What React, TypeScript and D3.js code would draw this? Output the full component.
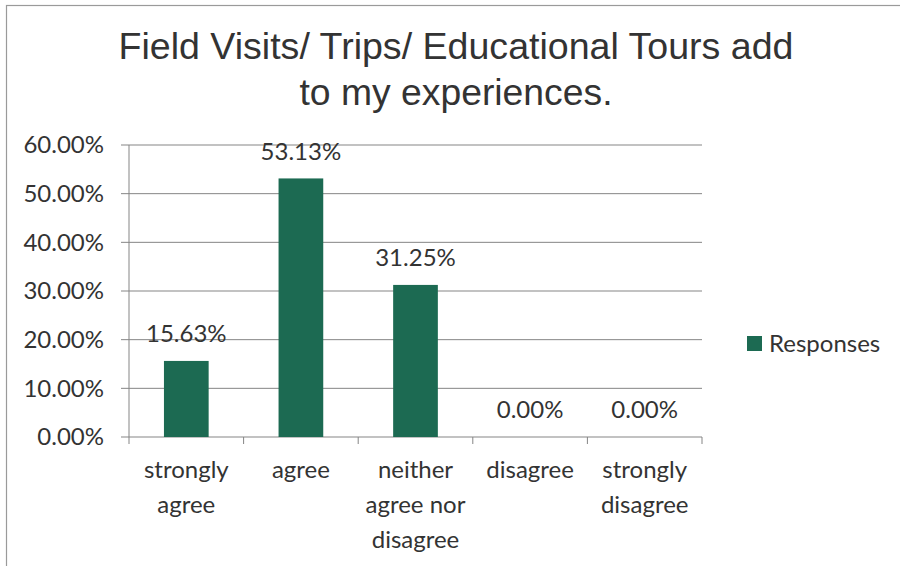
import { useEffect, useRef } from 'react';
import * as d3 from 'd3';

const categories = ['strongly agree', 'agree', 'neither agree nor disagree', 'disagree', 'strongly disagree'];
const categoryLines = [['strongly', 'agree'], ['agree'], ['neither', 'agree nor', 'disagree'], ['disagree'], ['strongly', 'disagree']];
const responses = [0.1563, 0.5313, 0.3125, 0, 0];
const yTicks = [0, 0.1, 0.2, 0.3, 0.4, 0.5, 0.6];
const titleLines = ['Field Visits/ Trips/ Educational Tours add', 'to my experiences.'];
const titleWidths = [675, 313];
const seriesName = 'Responses';

const W = 900;
const H = 566;
const BAR = '#1c6a52';
const LABEL_FONT = 'Lato, "Open Sans", sans-serif';
const LABEL_SIZE = 24;

export default function App() {
  const svgRef = useRef<SVGSVGElement>(null);

  useEffect(() => {
    if (!svgRef.current) return;
    const svg = d3.select(svgRef.current);
    svg.selectAll('*').remove();

    const left = 129;
    const right = 702;
    const top = 145;
    const bottom = 437;

    // gap width ~ 155% like the excel default
    const x = d3.scaleBand<string>().domain(categories).range([left, right]).paddingInner(0.61).paddingOuter(0.305);
    const y = d3.scaleLinear().domain([0, 0.6]).range([bottom, top]);
    const pct = (v: number) => (v * 100).toFixed(2) + '%';

    // frame
    svg.append('rect').attr('width', W).attr('height', H).attr('fill', '#fff');
    svg.append('rect')
      .attr('x', 6.5).attr('y', 5.5).attr('width', W).attr('height', H)
      .attr('fill', 'none').attr('stroke', '#9a9a9a').attr('stroke-width', 1.2);

    // title
    svg.append('g').selectAll('text').data(titleLines).enter().append('text')
      .attr('x', 456).attr('y', (_, i) => 59 + i * 46)
      .attr('text-anchor', 'middle')
      .attr('font-family', '"Liberation Sans", Arial, sans-serif')
      .attr('font-size', 36).attr('fill', '#333')
      .attr('textLength', (_, i) => titleWidths[i])
      .attr('lengthAdjust', 'spacingAndGlyphs')
      .text(d => d);

    // gridlines + y labels
    const g = svg.append('g');
    g.selectAll('line.grid').data(yTicks).enter().append('line')
      .attr('x1', left - 8).attr('x2', right)
      .attr('y1', d => y(d)).attr('y2', d => y(d))
      .attr('stroke', '#858585').attr('stroke-width', 1);
    g.selectAll('text.ytick').data(yTicks).enter().append('text')
      .attr('x', 104).attr('y', d => y(d))
      .attr('dy', '0.35em').attr('text-anchor', 'end')
      .attr('font-family', LABEL_FONT).attr('font-size', LABEL_SIZE).attr('fill', '#333')
      .text(d => pct(d));

    // y axis line
    g.append('line').attr('x1', left).attr('x2', left).attr('y1', top).attr('y2', bottom)
      .attr('stroke', '#858585');

    // x axis ticks between categories
    const edges = d3.range(categories.length + 1).map(i => left + i * x.step());
    g.selectAll('line.xtick').data(edges).enter().append('line')
      .attr('x1', d => d).attr('x2', d => d).attr('y1', bottom).attr('y2', bottom + 7)
      .attr('stroke', '#858585');

    // bars
    svg.append('g').selectAll('rect').data(responses).enter().append('rect')
      .attr('x', (_, i) => x(categories[i]) as number)
      .attr('width', x.bandwidth())
      .attr('y', d => y(d))
      .attr('height', d => bottom - y(d))
      .attr('fill', BAR);

    // data labels
    svg.append('g').selectAll('text').data(responses).enter().append('text')
      .attr('x', (_, i) => (x(categories[i]) as number) + x.bandwidth() / 2)
      .attr('y', d => y(d) - 27)
      .attr('dy', '0.35em').attr('text-anchor', 'middle')
      .attr('font-family', LABEL_FONT).attr('font-size', LABEL_SIZE).attr('fill', '#333')
      .text(d => pct(d));

    // category labels (wrapped like excel does)
    const cg = svg.append('g');
    categoryLines.forEach((lines, i) => {
      const cx = (x(categories[i]) as number) + x.bandwidth() / 2;
      lines.forEach((ln, j) => {
        cg.append('text')
          .attr('x', cx).attr('y', 470 + j * 35)
          .attr('dy', '0.35em').attr('text-anchor', 'middle')
          .attr('font-family', LABEL_FONT).attr('font-size', LABEL_SIZE).attr('fill', '#333')
          .text(ln);
      });
    });

    // legend
    const lg = svg.append('g').attr('transform', 'translate(747,336)');
    lg.append('rect').attr('width', 15).attr('height', 15).attr('fill', BAR);
    lg.append('text').attr('x', 22).attr('y', 7.5).attr('dy', '0.35em')
      .attr('font-family', LABEL_FONT).attr('font-size', LABEL_SIZE).attr('fill', '#333')
      .text(seriesName);
  }, []);

  return (
    <svg ref={svgRef} width={W} height={H} style={{ position: 'absolute', left: 0, top: 0, display: 'block' }} />
  );
}
